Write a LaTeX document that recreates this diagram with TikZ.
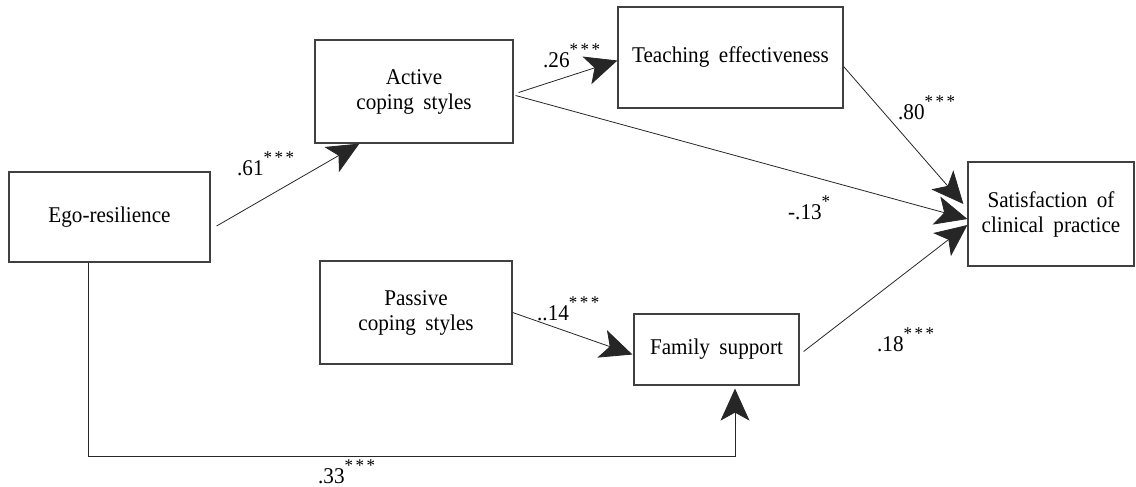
\documentclass[tikz,border=0pt]{standalone}
\usepackage{fontspec}
\setmainfont{Liberation Serif}[FakeStretch=0.94,WordSpace=1.8]
\usetikzlibrary{arrows.meta,calc}

\newcommand{\sigstars}[1]{\raisebox{12pt}{\fontsize{18}{18}\selectfont #1}}
\newcommand{\threestars}{*\hspace{2.5pt}*\hspace{2.5pt}*}

\begin{document}
\begin{tikzpicture}[x=1pt,y=-1pt,
  every node/.style={font=\fontsize{22.5}{25}\selectfont},
  box/.style={draw=black!75,line width=1.2pt,inner sep=0pt,align=center},
  effect/.style={-{Stealth[length=32pt,width=29pt,inset=8pt]},line width=0.8pt,black!85},
  coef/.style={anchor=base west,inner sep=0pt}]
  \useasboundingbox (0,0) rectangle (1136,487);
  % variables
  \node[box,minimum width=201pt,minimum height=90pt] (ego) at (109.5,217) {Ego-resilience};
  \node[box,minimum width=198pt,minimum height=103pt] (active) at (414,91.5) {Active\\coping styles};
  \node[box,minimum width=225pt,minimum height=101pt] (teach) at (730.5,57.5) {Teaching effectiveness};
  \node[box,minimum width=166pt,minimum height=104pt] (satis) at (1051,214) {Satisfaction of\\clinical practice};
  \node[box,minimum width=192pt,minimum height=103pt] (passive) at (416,312.5) {Passive\\coping styles};
  \node[box,minimum width=165pt,minimum height=71pt] (family) at (716.5,349.5) {Family support};
  % paths
  \draw[effect] ($(ego.east)+(6,9)$) -- ($(active.south west)+(45,0)$);
  \draw[effect] ($(active.east)+(5,1)$) -- ($(teach.west)+(0,3)$);
  \draw[effect] ($(active.east)+(2,4)$) -- ($(satis.west)+(0,5)$);
  \draw[effect] ($(teach.east)+(0,9)$) -- ($(satis.west)+(-4,-10)$);
  \draw[effect] ($(family.east)+(4,2)$) -- ($(satis.west)+(0,11)$);
  \draw[effect] (passive.east) -- ($(family.west)+(-1,5)$);
  \draw[effect] ($(ego.south)+(-21,0)$) |- ($(family.south)+(18.5,71)$) -- ($(family.south)+(18.5,3)$);
  % coefficients
  \node[coef] (c61) at (237,175) {.61\sigstars{\threestars}};
  \node[coef] (c26) at (543,67) {.26\sigstars{\threestars}};
  \node[coef] (c80) at (898,119) {.80\sigstars{\threestars}};
  \node[coef] (c13) at (788,219) {-.13\sigstars{*}};
  \node[coef] (c14) at (537,320) {..14\sigstars{\threestars}};
  \node[coef] (c18) at (877,351) {.18\sigstars{\threestars}};
  \node[coef] (c33) at (318,483) {.33\sigstars{\threestars}};
\end{tikzpicture}
\end{document}
